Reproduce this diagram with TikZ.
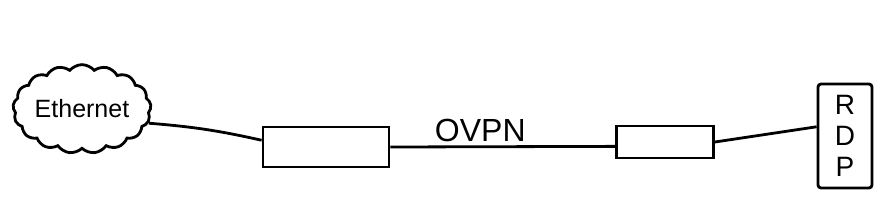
\documentclass[tikz,border=0pt]{standalone}
\usepackage{fontspec}
\setmainfont{Liberation Sans}
\usetikzlibrary{positioning,shapes.symbols}

\begin{document}
\begin{tikzpicture}[
  x=1pt,y=-1pt,
  line width=2.8pt,
  cloudbox/.style={draw,cloud,cloud puffs=17,cloud puff arc=100,aspect=1.7,
    minimum width=138pt,minimum height=82pt,inner sep=0pt,font=\fontsize{25}{28}\selectfont},
  tunbox/.style={draw,inner sep=0pt},
  hostbox/.style={draw,rounded corners=3pt,minimum width=54pt,minimum height=104pt,
    align=center,font=\fontsize{28}{31}\selectfont}]
\useasboundingbox (0,0) rectangle (888,218);
\node[cloudbox] (eth) at (82,109) {Ethernet};
\node[tunbox,minimum width=126pt,minimum height=40pt] (tunA) at (326,147) {};
\node[tunbox,minimum width=97pt,minimum height=32pt] (tunB) at (665,142) {};
\node[hostbox] (rdp) at (845,136) {R\\D\\P};
\draw (eth.-12) to[bend left=4] (tunA.174);
\draw (tunA.east) -- node[pos=0.4,above=4pt,font=\fontsize{32}{36}\selectfont,inner sep=0pt] (lbl) {OVPN} (tunB.185);
\draw (tunB.east) -- (rdp.162);
\end{tikzpicture}
\end{document}
